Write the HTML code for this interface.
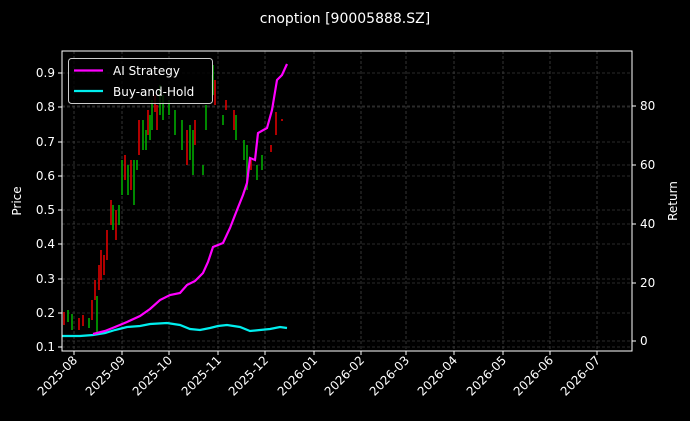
<!DOCTYPE html>
<html><head><meta charset="utf-8"><style>
body{margin:0;background:#000;}
svg{display:block;font-family:"DejaVu Sans","Liberation Sans",sans-serif;}
</style></head><body>
<svg width="690" height="421" viewBox="0 0 690 421">
<rect width="690" height="421" fill="#000"/>
<text x="345" y="23" fill="#fff" font-size="14" text-anchor="middle">cnoption [90005888.SZ]</text>
<g stroke="#555" stroke-width="0.6" stroke-dasharray="3,2">
<line x1="74" y1="51" x2="74" y2="351"/><line x1="122" y1="51" x2="122" y2="351"/><line x1="169" y1="51" x2="169" y2="351"/><line x1="218" y1="51" x2="218" y2="351"/><line x1="265" y1="51" x2="265" y2="351"/><line x1="314" y1="51" x2="314" y2="351"/><line x1="361" y1="51" x2="361" y2="351"/><line x1="406" y1="51" x2="406" y2="351"/><line x1="454" y1="51" x2="454" y2="351"/><line x1="503" y1="51" x2="503" y2="351"/><line x1="550" y1="51" x2="550" y2="351"/><line x1="597" y1="51" x2="597" y2="351"/>
<line x1="62" y1="347" x2="632" y2="347"/><line x1="62" y1="313" x2="632" y2="313"/><line x1="62" y1="279" x2="632" y2="279"/><line x1="62" y1="244" x2="632" y2="244"/><line x1="62" y1="210" x2="632" y2="210"/><line x1="62" y1="176" x2="632" y2="176"/><line x1="62" y1="142" x2="632" y2="142"/><line x1="62" y1="107" x2="632" y2="107"/><line x1="62" y1="73" x2="632" y2="73"/>
<line x1="62" y1="341" x2="632" y2="341"/><line x1="62" y1="283" x2="632" y2="283"/><line x1="62" y1="224" x2="632" y2="224"/><line x1="62" y1="165" x2="632" y2="165"/><line x1="62" y1="106" x2="632" y2="106"/>
</g>
<g stroke-width="1.6">
<line x1="64" y1="312" x2="64" y2="325" stroke="#d00"/><line x1="68" y1="310" x2="68" y2="322" stroke="#0a0"/><line x1="72" y1="314" x2="72" y2="330" stroke="#0a0"/><line x1="79" y1="318" x2="79" y2="330" stroke="#d00"/><line x1="83" y1="315" x2="83" y2="326" stroke="#d00"/><line x1="89" y1="318" x2="89" y2="328" stroke="#0a0"/><line x1="92" y1="300" x2="92" y2="320" stroke="#d00"/><line x1="95" y1="280" x2="95" y2="300" stroke="#d00"/>
<line x1="97" y1="296" x2="97" y2="335" stroke="#0a0"/><line x1="99" y1="265" x2="99" y2="290" stroke="#d00"/><line x1="101" y1="250" x2="101" y2="280" stroke="#d00"/><line x1="104" y1="255" x2="104" y2="275" stroke="#d00"/><line x1="107" y1="230" x2="107" y2="260" stroke="#d00"/>
<line x1="111" y1="200" x2="111" y2="225" stroke="#d00"/><line x1="113" y1="205" x2="113" y2="230" stroke="#0a0"/><line x1="116" y1="210" x2="116" y2="240" stroke="#d00"/><line x1="119" y1="205" x2="119" y2="225" stroke="#0a0"/><line x1="122" y1="160" x2="122" y2="195" stroke="#0a0"/>
<line x1="125" y1="155" x2="125" y2="180" stroke="#d00"/><line x1="128" y1="165" x2="128" y2="195" stroke="#0a0"/><line x1="131" y1="160" x2="131" y2="190" stroke="#d00"/><line x1="134" y1="160" x2="134" y2="205" stroke="#0a0"/><line x1="137" y1="160" x2="137" y2="170" stroke="#0a0"/>
<line x1="139" y1="120" x2="139" y2="155" stroke="#d00"/><line x1="143" y1="120" x2="143" y2="150" stroke="#0a0"/><line x1="146" y1="130" x2="146" y2="150" stroke="#0a0"/><line x1="148" y1="110" x2="148" y2="135" stroke="#d00"/><line x1="150" y1="115" x2="150" y2="140" stroke="#0a0"/>
<line x1="152" y1="100" x2="152" y2="130" stroke="#0a0"/><line x1="155" y1="95" x2="155" y2="112" stroke="#d00"/><line x1="157" y1="105" x2="157" y2="130" stroke="#d00"/><line x1="160" y1="85" x2="160" y2="115" stroke="#0a0"/><line x1="163" y1="95" x2="163" y2="120" stroke="#0a0"/>
<line x1="169" y1="100" x2="169" y2="115" stroke="#0a0"/><line x1="175" y1="110" x2="175" y2="135" stroke="#0a0"/><line x1="182" y1="120" x2="182" y2="150" stroke="#0a0"/><line x1="187" y1="130" x2="187" y2="165" stroke="#d00"/><line x1="190" y1="125" x2="190" y2="160" stroke="#0a0"/>
<line x1="193" y1="130" x2="193" y2="175" stroke="#0a0"/><line x1="195" y1="120" x2="195" y2="145" stroke="#d00"/><line x1="203" y1="165" x2="203" y2="175" stroke="#0a0"/><line x1="206" y1="105" x2="206" y2="130" stroke="#0a0"/><line x1="212" y1="75" x2="212" y2="100" stroke="#0a0"/>
<line x1="213" y1="65" x2="213" y2="95" stroke="#0a0"/><line x1="215" y1="80" x2="215" y2="105" stroke="#d00"/><line x1="226" y1="100" x2="226" y2="110" stroke="#d00"/><line x1="223" y1="115" x2="223" y2="125" stroke="#0a0"/><line x1="234" y1="110" x2="234" y2="130" stroke="#d00"/>
<line x1="236" y1="115" x2="236" y2="140" stroke="#0a0"/><line x1="244" y1="140" x2="244" y2="160" stroke="#0a0"/><line x1="247" y1="145" x2="247" y2="190" stroke="#0a0"/><line x1="251" y1="160" x2="251" y2="170" stroke="#d00"/><line x1="257" y1="165" x2="257" y2="180" stroke="#0a0"/>
<line x1="262" y1="155" x2="262" y2="170" stroke="#0a0"/><line x1="271" y1="145" x2="271" y2="152" stroke="#d00"/><line x1="276" y1="112" x2="276" y2="135" stroke="#d00"/><line x1="282" y1="119" x2="282" y2="121" stroke="#d00"/>
</g>
<polyline fill="none" stroke="#0ee" stroke-width="2.2" points="62,336 80,336 93,335 105,333 115,330 127,327 140,326 150,324 167,323 180,325 190,329 200,330 210,328 218,326 227,325 240,327 250,331 260,330 270,329 280,327 287,328"/>
<polyline fill="none" stroke="#f0f" stroke-width="2.2" points="93,334 105,331 115,327 127,322 140,316 150,309 160,300 170,295 180,293 187,285 195,281 203,273 208,262 213,247 223,243 230,228 237,210 243,195 247,183 250,158 255,160 258,133 267,128 272,110 277,80 282,75 287,64"/>
<rect x="62" y="51" width="570" height="300" fill="none" stroke="#fff" stroke-width="1"/>
<g stroke="#fff"><line x1="58" y1="347" x2="62" y2="347"/><line x1="58" y1="313" x2="62" y2="313"/><line x1="58" y1="279" x2="62" y2="279"/><line x1="58" y1="244" x2="62" y2="244"/><line x1="58" y1="210" x2="62" y2="210"/><line x1="58" y1="176" x2="62" y2="176"/><line x1="58" y1="142" x2="62" y2="142"/><line x1="58" y1="107" x2="62" y2="107"/><line x1="58" y1="73" x2="62" y2="73"/>
<line x1="632" y1="341" x2="636" y2="341"/><line x1="632" y1="283" x2="636" y2="283"/><line x1="632" y1="224" x2="636" y2="224"/><line x1="632" y1="165" x2="636" y2="165"/><line x1="632" y1="106" x2="636" y2="106"/>
<line x1="74" y1="351" x2="74" y2="355"/><line x1="122" y1="351" x2="122" y2="355"/><line x1="169" y1="351" x2="169" y2="355"/><line x1="218" y1="351" x2="218" y2="355"/><line x1="265" y1="351" x2="265" y2="355"/><line x1="314" y1="351" x2="314" y2="355"/><line x1="361" y1="351" x2="361" y2="355"/><line x1="406" y1="351" x2="406" y2="355"/><line x1="454" y1="351" x2="454" y2="355"/><line x1="503" y1="351" x2="503" y2="355"/><line x1="550" y1="351" x2="550" y2="355"/><line x1="597" y1="351" x2="597" y2="355"/></g>
<g fill="#fff" font-size="12" text-anchor="end">
<text x="55" y="351">0.1</text><text x="55" y="317">0.2</text><text x="55" y="283">0.3</text><text x="55" y="248">0.4</text><text x="55" y="214">0.5</text><text x="55" y="180">0.6</text><text x="55" y="146">0.7</text><text x="55" y="111">0.8</text><text x="55" y="77">0.9</text>
</g>
<g fill="#fff" font-size="12">
<text x="640" y="345">0</text><text x="640" y="287">20</text><text x="640" y="228">40</text><text x="640" y="169">60</text><text x="640" y="110">80</text>
</g>
<g fill="#fff" font-size="12" text-anchor="end">
<text transform="translate(78,361) rotate(-45)">2025-08</text><text transform="translate(126,361) rotate(-45)">2025-09</text><text transform="translate(173,361) rotate(-45)">2025-10</text><text transform="translate(222,361) rotate(-45)">2025-11</text><text transform="translate(269,361) rotate(-45)">2025-12</text><text transform="translate(318,361) rotate(-45)">2026-01</text><text transform="translate(365,361) rotate(-45)">2026-02</text><text transform="translate(410,361) rotate(-45)">2026-03</text><text transform="translate(458,361) rotate(-45)">2026-04</text><text transform="translate(507,361) rotate(-45)">2026-05</text><text transform="translate(554,361) rotate(-45)">2026-06</text><text transform="translate(601,361) rotate(-45)">2026-07</text>
</g>
<text transform="translate(21,201) rotate(-90)" fill="#fff" font-size="12" text-anchor="middle">Price</text>
<text transform="translate(677,201) rotate(-90)" fill="#fff" font-size="12" text-anchor="middle">Return</text>
<rect x="68.5" y="58.5" width="144" height="45" rx="3" fill="#000" fill-opacity="0.8" stroke="#ccc" stroke-width="1"/>
<line x1="74" y1="70.5" x2="103" y2="70.5" stroke="#f0f" stroke-width="2.2"/>
<line x1="74" y1="91" x2="103" y2="91" stroke="#0ee" stroke-width="2.2"/>
<text x="113" y="75" fill="#fff" font-size="12">AI Strategy</text>
<text x="113" y="96" fill="#fff" font-size="12">Buy-and-Hold</text>
</svg>
</body></html>
